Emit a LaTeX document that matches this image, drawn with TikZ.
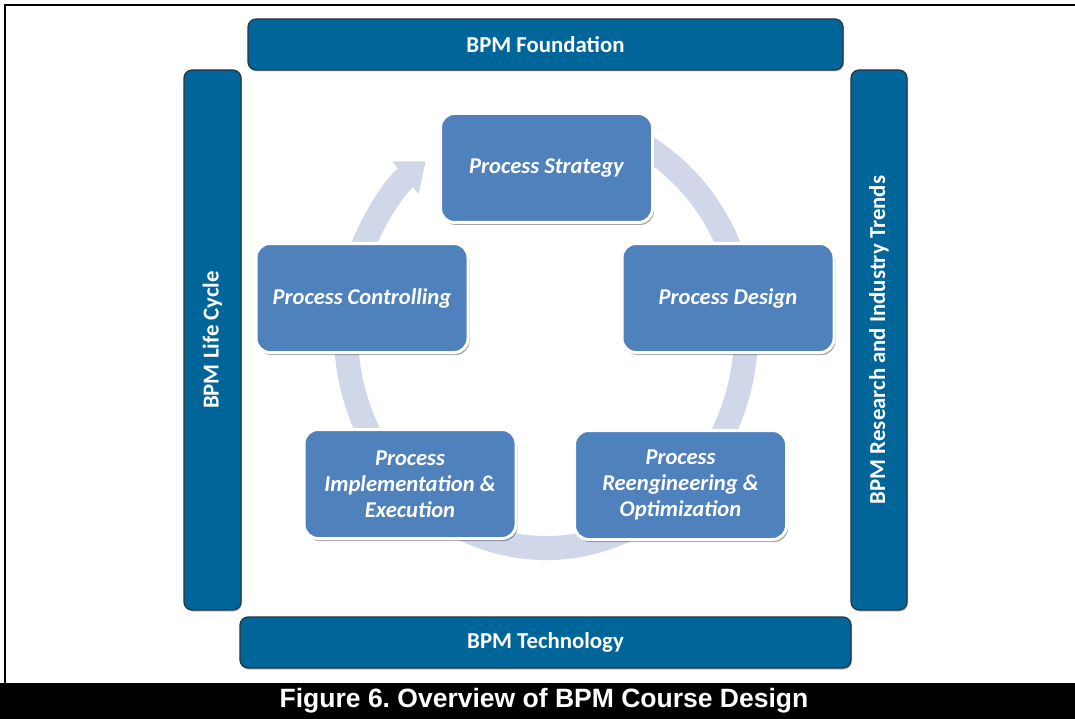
\documentclass[tikz,border=0pt]{standalone}
\usepackage{fontspec}
\setmainfont{Carlito}
\newfontfamily\capfont{Liberation Sans}
\usetikzlibrary{arrows.meta,shadows}
\frenchspacing
\definecolor{barblue}{RGB}{0,101,153}
\definecolor{barline}{RGB}{38,52,66}
\definecolor{procblue}{RGB}{79,129,189}
\definecolor{cyclecol}{RGB}{208,215,232}
\tikzset{
  bar/.style={draw=barline, line width=1.2pt, fill=barblue, rounded corners=8pt,
    inner sep=0pt, text=white, font=\bfseries\fontsize{22.8}{26}\selectfont,
    drop shadow={shadow xshift=1pt, shadow yshift=-1.5pt, opacity=0.25, fill=black}},
  proc/.style={draw=white, line width=3pt, fill=procblue, rounded corners=14pt,
    inner sep=0pt, minimum width=212pt, minimum height=109pt, text=white, align=center,
    font=\bfseries\itshape\fontsize{22.6}{26}\selectfont,
    drop shadow={shadow xshift=1.5pt, shadow yshift=-2.5pt, opacity=0.35, fill=black}},
  cyclearrow/.style={draw=cyclecol, line width=24pt, -{Triangle[width=40pt,length=26pt]}}
}
\begin{document}
\begin{tikzpicture}[x=1pt,y=-1pt]
\useasboundingbox (0,0) rectangle (1075,719);
\fill[white] (0,0) rectangle (1075,719);
% outer frame and caption band
\draw[line width=2.5pt] (5,5) rectangle (1095,700);
\fill[black] (0,683) rectangle (1075,719);
\node[text=white, font=\capfont\bfseries\fontsize{26.5}{30}\selectfont] (caption) at (544,701) {Figure 6. Overview of BPM Course Design};
% surrounding bars
\node[bar, minimum width=595pt, minimum height=51pt] (found) at (545.5,44.5) {BPM Foundation};
\node[bar, minimum width=611pt, minimum height=51pt] (tech) at (545.5,642.5) {BPM Technology};
\node[bar, rotate=90, minimum width=540pt, minimum height=57pt] (life) at (212.5,340) {BPM Life Cycle};
\node[bar, rotate=90, minimum width=540pt, minimum height=56pt] (trends) at (879,340) {BPM Research and Industry Trends};
% cycle arrow
\coordinate (cyc) at (546,333);
\draw[cyclearrow] (cyc) ++(-70:200 and 215) arc[start angle=-70, end angle=233, x radius=200, y radius=215];
% process boxes
\node[proc] (strategy) at (546.5,168) {Process Strategy};
\node[proc] (design) at (728,298) {Process Design};
\node[proc] (reeng) at (680.5,485) {Process\\Reengineering \&\\Optimization};
\node[proc] (impl) at (410,484) {Process\\Implementation \&\\Execution};
\node[proc] (control) at (362,298) {Process Controlling};
\end{tikzpicture}
\end{document}
